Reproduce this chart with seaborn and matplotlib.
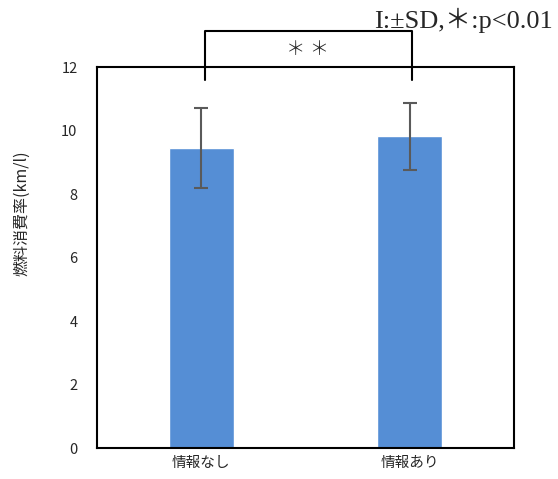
import matplotlib
matplotlib.use('Agg')
import matplotlib.pyplot as plt
import numpy as np
import pandas as pd
import seaborn as sns

# data
conditions = ['情報なし', '情報あり']
fuel_mean = [9.45, 9.82]
fuel_sd = [1.26, 1.05]
y_ticks = [0, 2, 4, 6, 8, 10, 12]

sns.set_style('white')
plt.rcParams['font.family'] = ['Noto Sans CJK JP', 'DejaVu Sans']

df = pd.DataFrame({'cond': conditions, 'mean': fuel_mean, 'sd': fuel_sd})

fig = plt.figure(figsize=(5.58, 4.79), dpi=100)
ax = fig.add_axes([0.1738, 0.0647, 0.7473, 0.7954])

sns.barplot(data=df, x='cond', y='mean', color='#558ED5', saturation=1,
            width=0.31, errorbar=None, ax=ax)
ax.errorbar(np.arange(len(conditions)), df['mean'], yerr=df['sd'], fmt='none',
            ecolor='#5a5a5a', elinewidth=1.5, capsize=5, capthick=1.5)

ax.set_xlim(-0.5, 1.5)
ax.set_ylim(0, 12)
ax.set_yticks(y_ticks)
ax.set_yticklabels([str(t) for t in y_ticks], fontsize=10.5)
ax.tick_params(axis='y', length=0, pad=14)
ax.tick_params(axis='x', length=0, pad=6, labelsize=10.5)
ax.set_xlabel('')
ax.set_ylabel('燃料消費率(km/l)', fontsize=11.5)
ax.yaxis.set_label_coords(-0.16, 0.617)
for s in ax.spines.values():
    s.set_color('black')
    s.set_linewidth(1.5)
    s.set_visible(True)

# significance bracket
bx = [0.02, 0.02, 1.01, 1.01]
by = [11.6, 13.13, 13.13, 11.6]
ax.plot(bx, by, color='black', lw=1.5, clip_on=False)
ax.text(0.51, 12.55, '＊ ＊', ha='center', va='center', fontsize=14,
        fontweight='light', clip_on=False)

fig.text(553 / 558, 1 - 20 / 479, 'I:±SD,＊:p<0.01', ha='right', va='center',
         fontsize=19, family=['Liberation Serif', 'Noto Sans CJK JP'])

plt.savefig('out.png', dpi=100)
